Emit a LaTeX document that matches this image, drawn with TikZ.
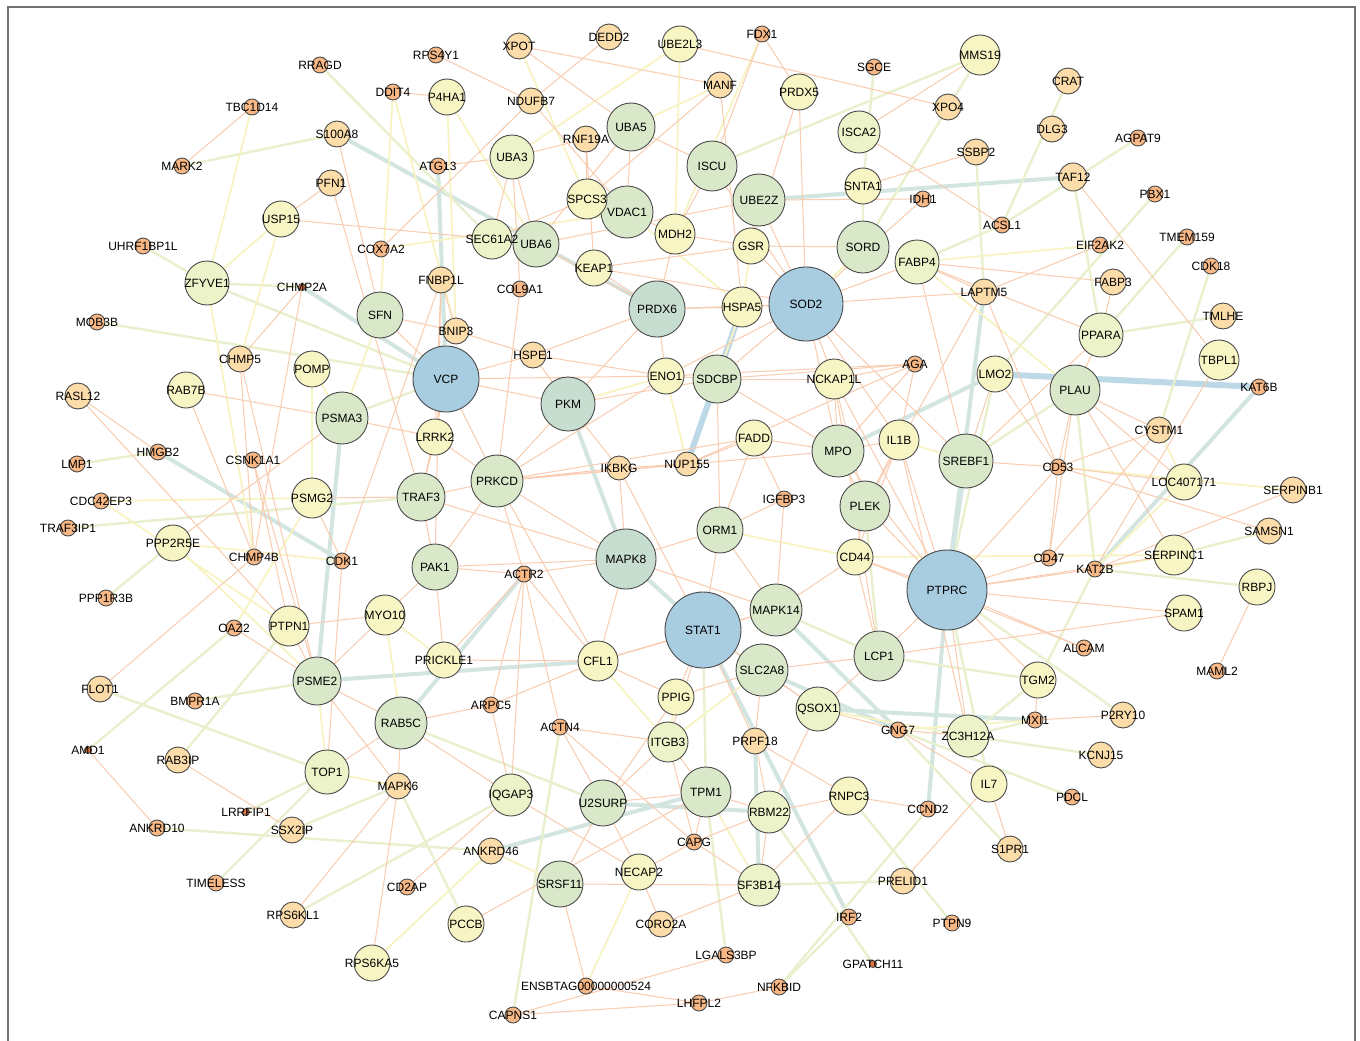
\documentclass[tikz,border=0pt]{standalone}
\usepackage{fontspec}
\setmainfont{Liberation Sans}
\usetikzlibrary{backgrounds}

\definecolor{cblue}{HTML}{A8CCE0}
\definecolor{cteal}{HTML}{C7DDD0}
\definecolor{cgreen}{HTML}{DAE8CA}
\definecolor{clime}{HTML}{ECF3C8}
\definecolor{cyellow}{HTML}{F8F5C4}
\definecolor{cpeach}{HTML}{FCDDAA}
\definecolor{corange}{HTML}{F7B886}
\definecolor{crust}{HTML}{E0743E}
\definecolor{eorange}{HTML}{F9CCB0}
\definecolor{eyellow}{HTML}{F8F3C3}
\definecolor{elime}{HTML}{E8F0CD}
\definecolor{eteal}{HTML}{D3E5E0}
\definecolor{eblue}{HTML}{BDD8E6}
\definecolor{rim}{HTML}{4A4A4A}

\tikzstyle{gene} = [circle, draw=rim, line width=0.9pt, inner sep=0pt]
\tikzstyle{blue_node} = [gene, fill=cblue]
\tikzstyle{teal_node} = [gene, fill=cteal]
\tikzstyle{green_node} = [gene, fill=cgreen]
\tikzstyle{lime_node} = [gene, fill=clime]
\tikzstyle{yellow_node} = [gene, fill=cyellow]
\tikzstyle{peach_node} = [gene, fill=cpeach, minimum size=26]
\tikzstyle{orange_node} = [gene, fill=corange, minimum size=16]
\tikzstyle{rust_node} = [gene, fill=crust, minimum size=7]
\tikzstyle{weak_edge} = [draw=eorange, line width=1pt]
\tikzstyle{mild_edge} = [draw=eyellow, line width=1.8pt]
\tikzstyle{lime_edge} = [draw=elime, line width=2.4pt]
\tikzstyle{strong_edge} = [draw=eteal, line width=4pt]
\tikzstyle{top_edge} = [draw=eblue, line width=6pt]
\tikzstyle{frame} = [draw=black!55, line width=1.2pt]

\begin{document}
\begin{tikzpicture}[x=1pt, y=-1pt, every label/.style={font=\fontsize{12}{12}\selectfont, inner sep=0pt, text=black}]
\useasboundingbox (0,0) rectangle (1360,1041);
\draw [frame] (8,1041) -- (8,7) -- (1355,7) -- (1355,1041);

% hubs
\node (VCP) [blue_node, minimum size=66, label=center:VCP] at (446,379) {};
\node (SOD2) [blue_node, minimum size=74, label=center:SOD2] at (806,304) {};
\node (STAT1) [blue_node, minimum size=76, label=center:STAT1] at (703,630) {};
\node (PTPRC) [blue_node, minimum size=80, label=center:PTPRC] at (947,590) {};
\node (PRDX6) [teal_node, minimum size=56, label=center:PRDX6] at (657,309) {};
\node (PKM) [teal_node, minimum size=54, label=center:PKM] at (568,404) {};
\node (MAPK8) [teal_node, minimum size=60, label=center:MAPK8] at (626,559) {};

% green nodes
\node (UBA5) [green_node, minimum size=48, label=center:UBA5] at (631,127) {};
\node (VDAC1) [green_node, minimum size=52, label=center:VDAC1] at (627,212) {};
\node (UBE2Z) [green_node, minimum size=52, label=center:UBE2Z] at (759,200) {};
\node (ISCU) [green_node, minimum size=50, label=center:ISCU] at (712,166) {};
\node (SORD) [green_node, minimum size=52, label=center:SORD] at (863,247) {};
\node (UBA6) [green_node, minimum size=46, label=center:UBA6] at (536,244) {};
\node (SFN) [green_node, minimum size=46, label=center:SFN] at (380,315) {};
\node (PSMA3) [green_node, minimum size=52, label=center:PSMA3] at (342,418) {};
\node (PRKCD) [green_node, minimum size=52, label=center:PRKCD] at (497,481) {};
\node (TRAF3) [green_node, minimum size=48, label=center:TRAF3] at (421,497) {};
\node (SDCBP) [green_node, minimum size=48, label=center:SDCBP] at (717,379) {};
\node (MPO) [green_node, minimum size=52, label=center:MPO] at (838,451) {};
\node (SREBF1) [green_node, minimum size=54, label=center:SREBF1] at (966,461) {};
\node (PLEK) [green_node, minimum size=50, label=center:PLEK] at (865,506) {};
\node (PLAU) [green_node, minimum size=50, label=center:PLAU] at (1075,390) {};
\node (MAPK14) [green_node, minimum size=52, label=center:MAPK14] at (776,610) {};
\node (SLC2A8) [green_node, minimum size=52, label=center:SLC2A8] at (762,670) {};
\node (LCP1) [green_node, minimum size=50, label=center:LCP1] at (879,656) {};
\node (RAB5C) [green_node, minimum size=52, label=center:RAB5C] at (401,723) {};
\node (PSME2) [green_node, minimum size=48, label=center:PSME2] at (317,681) {};
\node (TPM1) [green_node, minimum size=50, label=center:TPM1] at (706,792) {};
\node (U2SURP) [green_node, minimum size=46, label=center:U2SURP] at (603,803) {};
\node (SRSF11) [green_node, minimum size=46, label=center:SRSF11] at (560,884) {};
\node (PAK1) [green_node, minimum size=46, label=center:PAK1] at (435,567) {};
\node (ORM1) [green_node, minimum size=46, label=center:ORM1] at (720,530) {};

% pale green nodes
\node (ZFYVE1) [lime_node, minimum size=44, label=center:ZFYVE1] at (207,283) {};
\node (UBA3) [lime_node, minimum size=44, label=center:UBA3] at (512,157) {};
\node (SEC61A2) [lime_node, minimum size=40, label=center:SEC61A2] at (492,239) {};
\node (ISCA2) [lime_node, minimum size=42, label=center:ISCA2] at (859,132) {};
\node (FABP4) [lime_node, minimum size=44, label=center:FABP4] at (917,262) {};
\node (PPARA) [lime_node, minimum size=44, label=center:PPARA] at (1101,335) {};
\node (QSOX1) [lime_node, minimum size=44, label=center:QSOX1] at (818,709) {};
\node (IQGAP3) [lime_node, minimum size=42, label=center:IQGAP3] at (511,795) {};
\node (TOP1) [lime_node, minimum size=44, label=center:TOP1] at (327,772) {};
\node (ZC3H12A) [lime_node, minimum size=42, label=center:ZC3H12A] at (968,736) {};
\node (SF3B14) [lime_node, minimum size=42, label=center:SF3B14] at (759,885) {};
\node (RBM22) [lime_node, minimum size=42, label=center:RBM22] at (769,812) {};
\node (ITGB3) [lime_node, minimum size=40, label=center:ITGB3] at (668,742) {};

% yellow nodes
\node (P4HA1) [yellow_node, minimum size=36, label=center:P4HA1] at (447,97) {};
\node (PRDX5) [yellow_node, minimum size=36, label=center:PRDX5] at (799,92) {};
\node (MMS19) [yellow_node, minimum size=40, label=center:MMS19] at (980,55) {};
\node (UBE2L3) [yellow_node, minimum size=36, label=center:UBE2L3] at (680,44) {};
\node (SPCS3) [yellow_node, minimum size=40, label=center:SPCS3] at (587,199) {};
\node (MDH2) [yellow_node, minimum size=40, label=center:MDH2] at (675,234) {};
\node (GSR) [yellow_node, minimum size=36, label=center:GSR] at (751,246) {};
\node (KEAP1) [yellow_node, minimum size=36, label=center:KEAP1] at (594,268) {};
\node (HSPA5) [yellow_node, minimum size=40, label=center:HSPA5] at (742,307) {};
\node (SNTA1) [yellow_node, minimum size=36, label=center:SNTA1] at (863,186) {};
\node (USP15) [yellow_node, minimum size=36, label=center:USP15] at (281,219) {};
\node (POMP) [yellow_node, minimum size=36, label=center:POMP] at (312,369) {};
\node (RAB7B) [yellow_node, minimum size=36, label=center:RAB7B] at (186,390) {};
\node (LRRK2) [yellow_node, minimum size=36, label=center:LRRK2] at (435,437) {};
\node (ENO1) [yellow_node, minimum size=36, label=center:ENO1] at (666,376) {};
\node (NCKAP1L) [yellow_node, minimum size=40, label=center:NCKAP1L] at (834,379) {};
\node (IL1B) [yellow_node, minimum size=40, label=center:IL1B] at (899,440) {};
\node (LMO2) [yellow_node, minimum size=36, label=center:LMO2] at (995,374) {};
\node (TBPL1) [yellow_node, minimum size=40, label=center:TBPL1] at (1219,360) {};
\node (PSMG2) [yellow_node, minimum size=40, label=center:PSMG2] at (312,498) {};
\node (PPP2R5E) [yellow_node, minimum size=36, label=center:PPP2R5E] at (173,543) {};
\node (FADD) [yellow_node, minimum size=36, label=center:FADD] at (754,438) {};
\node (CD44) [yellow_node, minimum size=36, label=center:CD44] at (855,557) {};
\node (MYO10) [yellow_node, minimum size=40, label=center:MYO10] at (385,615) {};
\node (PTPN1) [yellow_node, minimum size=40, label=center:PTPN1] at (289,626) {};
\node (PRICKLE1) [yellow_node, minimum size=36, label=center:PRICKLE1] at (444,660) {};
\node (CFL1) [yellow_node, minimum size=40, label=center:CFL1] at (598,661) {};
\node (PPIG) [yellow_node, minimum size=36, label=center:PPIG] at (676,697) {};
\node (TGM2) [yellow_node, minimum size=36, label=center:TGM2] at (1038,680) {};
\node (IL7) [yellow_node, minimum size=36, label=center:IL7] at (989,784) {};
\node (RNPC3) [yellow_node, minimum size=38, label=center:RNPC3] at (849,796) {};
\node (NECAP2) [yellow_node, minimum size=36, label=center:NECAP2] at (639,872) {};
\node (PCCB) [yellow_node, minimum size=36, label=center:PCCB] at (466,924) {};
\node (RPS6KA5) [yellow_node, minimum size=36, label=center:RPS6KA5] at (372,963) {};
\node (LOC407171) [yellow_node, minimum size=36, label=center:LOC407171] at (1184,482) {};
\node (SERPINC1) [yellow_node, minimum size=40, label=center:SERPINC1] at (1174,555) {};
\node (SPAM1) [yellow_node, minimum size=36, label=center:SPAM1] at (1184,613) {};
\node (RBPJ) [yellow_node, minimum size=36, label=center:RBPJ] at (1257,587) {};

% light orange nodes
\node (XPOT) [peach_node, label=center:XPOT] at (519,46) {};
\node (DEDD2) [peach_node, label=center:DEDD2] at (609,37) {};
\node (NDUFB7) [peach_node, label=center:NDUFB7] at (531,101) {};
\node (RNF19A) [peach_node, label=center:RNF19A] at (586,139) {};
\node (MANF) [peach_node, label=center:MANF] at (720,85) {};
\node (XPO4) [peach_node, label=center:XPO4] at (948,107) {};
\node (SSBP2) [peach_node, label=center:SSBP2] at (976,152) {};
\node (CRAT) [peach_node, label=center:CRAT] at (1068,81) {};
\node (DLG3) [peach_node, label=center:DLG3] at (1052,129) {};
\node (TAF12) [peach_node, minimum size=28, label=center:TAF12] at (1073,177) {};
\node (S100A8) [peach_node, label=center:S100A8] at (337,134) {};
\node (PFN1) [peach_node, label=center:PFN1] at (331,183) {};
\node (FNBP1L) [peach_node, label=center:FNBP1L] at (441,280) {};
\node (BNIP3) [peach_node, label=center:BNIP3] at (456,331) {};
\node (LAPTM5) [peach_node, label=center:LAPTM5] at (984,292) {};
\node (FABP3) [peach_node, label=center:FABP3] at (1113,282) {};
\node (TMLHE) [peach_node, label=center:TMLHE] at (1223,316) {};
\node (CHMP5) [peach_node, label=center:CHMP5] at (240,359) {};
\node (HSPE1) [peach_node, label=center:HSPE1] at (533,355) {};
\node (RASL12) [peach_node, label=center:RASL12] at (78,396) {};
\node (CYSTM1) [peach_node, label=center:CYSTM1] at (1159,430) {};
\node (SERPINB1) [peach_node, label=center:SERPINB1] at (1293,490) {};
\node (SAMSN1) [peach_node, label=center:SAMSN1] at (1269,531) {};
\node (FLOT1) [peach_node, label=center:FLOT1] at (100,689) {};
\node (RAB3IP) [peach_node, label=center:RAB3IP] at (178,760) {};
\node (SSX2IP) [peach_node, label=center:SSX2IP] at (292,830) {};
\node (RPS6KL1) [peach_node, label=center:RPS6KL1] at (293,915) {};
\node (P2RY10) [peach_node, label=center:P2RY10] at (1123,715) {};
\node (KCNJ15) [peach_node, label=center:KCNJ15] at (1101,755) {};
\node (S1PR1) [peach_node, label=center:S1PR1] at (1010,849) {};
\node (PRELID1) [peach_node, label=center:PRELID1] at (903,881) {};
\node (CORO2A) [peach_node, label=center:CORO2A] at (661,924) {};
\node (MAPK6) [peach_node, label=center:MAPK6] at (398,786) {};
\node (ANKRD46) [peach_node, label=center:ANKRD46] at (491,851) {};
\node (NUP155) [peach_node, minimum size=24, label=center:NUP155] at (687,464) {};
\node (IKBKG) [peach_node, minimum size=24, label=center:IKBKG] at (619,468) {};
\node (PRPF18) [peach_node, label=center:PRPF18] at (755,741) {};

% small orange nodes
\node (RRAGD) [orange_node, label=center:RRAGD] at (320,65) {};
\node (TBC1D14) [orange_node, label=center:TBC1D14] at (252,107) {};
\node (MARK2) [orange_node, label=center:MARK2] at (182,166) {};
\node (UHRF1BP1L) [orange_node, label=center:UHRF1BP1L] at (143,246) {};
\node (MOB3B) [orange_node, label=center:MOB3B] at (97,322) {};
\node (RPS4Y1) [orange_node, label=center:RPS4Y1] at (436,55) {};
\node (DDIT4) [orange_node, label=center:DDIT4] at (393,92) {};
\node (ATG13) [orange_node, label=center:ATG13] at (438,166) {};
\node (COX7A2) [orange_node, label=center:COX7A2] at (381,249) {};
\node (COL9A1) [orange_node, label=center:COL9A1] at (520,289) {};
\node (FDX1) [orange_node, label=center:FDX1] at (762,34) {};
\node (SGCE) [orange_node, label=center:SGCE] at (874,67) {};
\node (IDH1) [orange_node, label=center:IDH1] at (923,199) {};
\node (ACSL1) [orange_node, label=center:ACSL1] at (1002,225) {};
\node (AGPAT9) [orange_node, label=center:AGPAT9] at (1138,138) {};
\node (PBX1) [orange_node, label=center:PBX1] at (1155,194) {};
\node (EIF2AK2) [orange_node, label=center:EIF2AK2] at (1100,245) {};
\node (TMEM159) [orange_node, label=center:TMEM159] at (1187,237) {};
\node (CDK18) [orange_node, label=center:CDK18] at (1211,266) {};
\node (AGA) [orange_node, label=center:AGA] at (915,364) {};
\node (KAT6B) [orange_node, label=center:KAT6B] at (1259,387) {};
\node (CD53) [orange_node, label=center:CD53] at (1058,467) {};
\node (CD47) [orange_node, label=center:CD47] at (1049,558) {};
\node (KAT2B) [orange_node, label=center:KAT2B] at (1095,569) {};
\node (ALCAM) [orange_node, label=center:ALCAM] at (1084,648) {};
\node (MAML2) [orange_node, label=center:MAML2] at (1217,671) {};
\node (IGFBP3) [orange_node, label=center:IGFBP3] at (784,499) {};
\node (HMGB2) [orange_node, label=center:HMGB2] at (158,452) {};
\node (LMP1) [orange_node, label=center:LMP1] at (77,464) {};
\node (CSNK1A1) [orange_node, label=center:CSNK1A1] at (253,460) {};
\node (CDC42EP3) [orange_node, label=center:CDC42EP3] at (101,501) {};
\node (TRAF3IP1) [orange_node, label=center:TRAF3IP1] at (68,528) {};
\node (CHMP4B) [orange_node, label=center:CHMP4B] at (254,557) {};
\node (CDK1) [orange_node, label=center:CDK1] at (342,561) {};
\node (PPP1R3B) [orange_node, label=center:PPP1R3B] at (106,598) {};
\node (OAZ2) [orange_node, label=center:OAZ2] at (234,628) {};
\node (ACTR2) [orange_node, label=center:ACTR2] at (524,574) {};
\node (BMPR1A) [orange_node, label=center:BMPR1A] at (195,701) {};
\node (ARPC5) [orange_node, label=center:ARPC5] at (491,705) {};
\node (ACTN4) [orange_node, label=center:ACTN4] at (560,727) {};
\node (ANKRD10) [orange_node, label=center:ANKRD10] at (157,828) {};
\node (TIMELESS) [orange_node, label=center:TIMELESS] at (216,883) {};
\node (CD2AP) [orange_node, label=center:CD2AP] at (407,887) {};
\node (ENSBTAG) [orange_node, label=center:ENSBTAG00000000524] at (586,986) {};
\node (CAPNS1) [orange_node, label=center:CAPNS1] at (513,1015) {};
\node (GNG7) [orange_node, label=center:GNG7] at (898,730) {};
\node (MXI1) [orange_node, label=center:MXI1] at (1035,720) {};
\node (CCND2) [orange_node, label=center:CCND2] at (928,809) {};
\node (CAPG) [orange_node, label=center:CAPG] at (694,842) {};
\node (IRF2) [orange_node, label=center:IRF2] at (849,917) {};
\node (PTPN9) [orange_node, label=center:PTPN9] at (952,923) {};
\node (LGALS3BP) [orange_node, label=center:LGALS3BP] at (726,955) {};
\node (NFKBID) [orange_node, label=center:NFKBID] at (779,987) {};
\node (LHFPL2) [orange_node, label=center:LHFPL2] at (699,1003) {};
\node (PDCL) [orange_node, label=center:PDCL] at (1072,797) {};

% tiny nodes
\node (CHMP2A) [rust_node, label=center:CHMP2A] at (302,287) {};
\node (AMD1) [rust_node, label=center:AMD1] at (88,750) {};
\node (LRRFIP1) [rust_node, label=center:LRRFIP1] at (246,812) {};
\node (GPATCH11) [rust_node, label=center:GPATCH11] at (873,964) {};

\begin{scope}[on background layer]
\fill [white] (0,0) rectangle (1360,1041);
% heavy links
\foreach \a/\b in {LMO2/KAT6B, NUP155/HSPA5}
  \draw [top_edge] (\a) -- (\b);
\foreach \a/\b in {S100A8/PRDX6, CHMP2A/VCP, HMGB2/CDK1, UBE2Z/TAF12, ATG13/VCP, PKM/MAPK8, MAPK8/STAT1,
  STAT1/IRF2, PTPRC/CCND2, PRPF18/SF3B14, SLC2A8/GNG7, MAPK14/GNG7, QSOX1/MXI1, ANKRD46/TPM1,
  PSMA3/PSME2, LAPTM5/PTPRC, SREBF1/PTPRC, KAT6B/KAT2B, PSME2/CFL1, ACTR2/RAB5C, U2SURP/RBM22, MPO/LMO2}
  \draw [strong_edge] (\a) -- (\b);
% medium links
\foreach \a/\b in {MARK2/S100A8, UHRF1BP1L/ZFYVE1, ZFYVE1/CHMP2A, ZFYVE1/VCP, MOB3B/VCP, LMP1/HMGB2,
  TRAF3IP1/TRAF3, PPP2R5E/PPP1R3B, AMD1/OAZ2, RAB3IP/PTPN1, LRRFIP1/TOP1, TIMELESS/TOP1, ANKRD10/ANKRD46,
  SSX2IP/MAPK6, RPS6KL1/IQGAP3, MAPK6/PCCB, CAPNS1/ACTN4, LGALS3BP/TPM1, IRF2/NFKBID, NFKBID/CCND2,
  GPATCH11/RBM22, SF3B14/PRELID1, RNPC3/PTPN9, S1PR1/GNG7, PDCL/GNG7, P2RY10/PTPRC, ZC3H12A/KCNJ15,
  ZC3H12A/MXI1, ZC3H12A/TGM2, RBPJ/KAT2B, SAMSN1/SERPINC1, KAT2B/TGM2, TMLHE/PPARA, TMEM159/PPARA,
  CDK18/CYSTM1, PBX1/LMO2, TAF12/PPARA, AGPAT9/ACSL1, CRAT/ACSL1, SSBP2/LAPTM5, ACSL1/FABP4, MMS19/ISCU,
  RRAGD/SEC61A2, BMPR1A/PSME2, FLOT1/TOP1, PLAU/KAT2B, PTPRC/IL7, PLEK/LCP1, SREBF1/PLAU, TGM2/LCP1,
  SGCE/SNTA1, MMS19/SORD, VCP/PSMA3, RAB5C/U2SURP, STAT1/TPM1, LMO2/PTPRC, SORD/SNTA1, MAPK14/LCP1}
  \draw [lime_edge] (\a) -- (\b);
\foreach \a/\b in {TBC1D14/ZFYVE1, USP15/CHMP5, ZFYVE1/CHMP4B, DDIT4/SFN, DDIT4/BNIP3, P4HA1/UBA6,
  P4HA1/BNIP3, CDC42EP3/PSMG2, CDC42EP3/PTPN1, PPP2R5E/CDK1, PPP2R5E/PSME2, RPS6KA5/ANKRD46,
  ANKRD46/SRSF11, ENSBTAG/NECAP2, CD53/SERPINB1, XPOT/SPCS3, UBE2L3/MDH2, UBE2L3/UBA3, COX7A2/VDAC1,
  POMP/PSMG2, ENO1/NUP155, CFL1/ITGB3, TOP1/PSME2, MAPK6/TOP1, MYO10/RAB5C, POMP/PSMA3, MANF/UBA5,
  FDX1/MDH2, VDAC1/HSPA5, HSPA5/SDCBP, GSR/HSPA5, ZFYVE1/USP15, EIF2AK2/FABP4, OAZ2/PSMG2, CD44/SERPINC1,
  SERPINC1/KAT2B, LOC407171/KAT2B, LOC407171/CYSTM1, SFN/PSMA3, PRICKLE1/MYO10, PPIG/ITGB3, IL1B/SREBF1,
  FABP4/PLAU, SOD2/SORD, PKM/ENO1, ORM1/CD44, SLC2A8/ITGB3, TPM1/SF3B14, QSOX1/ZC3H12A, GNG7/MXI1}
  \draw [mild_edge] (\a) -- (\b);
% light links
\foreach \a/\b in {TBC1D14/MARK2, CHMP2A/CHMP5, CHMP2A/CHMP4B, RASL12/PTPN1, RAB7B/PSMA3, RAB7B/CHMP4B,
  CHMP5/CHMP4B, CHMP5/PSME2, PPP2R5E/PSMA3, CHMP4B/FLOT1, CSNK1A1/PSME2, CSNK1A1/PTPN1, PFN1/TRAF3,
  USP15/SEC61A2, XPOT/MANF, UBE2L3/XPO4, DEDD2/NDUFB7, NDUFB7/COX7A2, NDUFB7/VDAC1, DDIT4/P4HA1,
  RNF19A/UBA3, RNF19A/KEAP1, UBA3/UBA6, UBA6/UBE2Z, KEAP1/GSR, KEAP1/SOD2, FNBP1L/LRRK2, FNBP1L/PAK1,
  FNBP1L/CDK1, FNBP1L/BNIP3, FDX1/ISCU, FDX1/PRDX5, PRDX5/SOD2, PRDX5/GSR, ISCA2/MMS19, ISCA2/ACSL1,
  SNTA1/SSBP2, IDH1/UBE2Z, IDH1/SOD2, GSR/SORD, MANF/HSPA5, MANF/SPCS3, TAF12/TBPL1, EIF2AK2/LAPTM5,
  FABP3/PPARA, FABP3/FABP4, TBPL1/KAT2B, PLAU/CYSTM1, PLAU/CD53, PLAU/LOC407171, PLAU/SERPINC1,
  CYSTM1/CD53, CYSTM1/CD47, CD53/CD47, CD53/LOC407171, CD53/SAMSN1, SERPINB1/KAT2B, RBPJ/MAML2,
  SPAM1/LCP1, ALCAM/CD44, MXI1/P2RY10, AMD1/ANKRD10, RAB3IP/SSX2IP, RPS6KL1/MAPK6, RAB5C/ARPC5,
  RAB5C/IQGAP3, IQGAP3/CD2AP, IQGAP3/NECAP2, U2SURP/NECAP2, U2SURP/SRSF11, SRSF11/SF3B14, SRSF11/ENSBTAG,
  NECAP2/CORO2A, PCCB/TPM1, MAPK6/RPS6KA5, LGALS3BP/CAPNS1, NFKBID/LHFPL2, LHFPL2/CAPNS1, PRPF18/RNPC3,
  PRPF18/RBM22, RBM22/RNPC3, RBM22/SF3B14, RBM22/CAPG, RNPC3/SF3B14, CAPG/SF3B14, PRELID1/IL7, IL7/S1PR1,
  GNG7/IL7, GNG7/ZC3H12A, ACTR2/PAK1, ACTR2/ARPC5, ACTR2/CFL1, ACTR2/ACTN4, ACTR2/PRKCD, ACTR2/MAPK8,
  ACTR2/IQGAP3, ACTR2/PRICKLE1, VCP/ENO1, VCP/HSPE1, VCP/LRRK2, VCP/TRAF3, VCP/PRKCD, VCP/PKM,
  PRKCD/IKBKG, PRKCD/NUP155, PRKCD/TRAF3, PRKCD/PKM, PRKCD/LRRK2, PRKCD/ENO1, PRKCD/FADD, PRKCD/MPO,
  PRKCD/PAK1, PRKCD/MAPK8, PRKCD/CFL1, PKM/HSPE1, PKM/IKBKG, PKM/SDCBP, MAPK8/IKBKG, MAPK8/TRAF3,
  MAPK8/PAK1, MAPK8/MAPK14, MAPK8/CFL1, MAPK8/ORM1, AGA/ENO1, AGA/SDCBP, AGA/NUP155, AGA/MPO,
  AGA/NCKAP1L, AGA/IL1B, NCKAP1L/MPO, NCKAP1L/PLEK, NCKAP1L/PTPRC, NCKAP1L/LCP1, MPO/PLEK, MPO/IL1B,
  MPO/FADD, MPO/SDCBP, MPO/PTPRC, IL1B/PLEK, IL1B/CD44, IL1B/PTPRC, IL1B/ZC3H12A, IGFBP3/FADD,
  IGFBP3/ORM1, IGFBP3/MAPK14, CD44/PTPRC, CD44/PLEK, CD44/LCP1, CD44/MAPK14, PTPRC/LCP1, PTPRC/PLEK,
  PTPRC/CD53, PTPRC/CD47, PTPRC/TGM2, PTPRC/KAT2B, PTPRC/SERPINC1, PTPRC/SPAM1, PTPRC/ALCAM,
  PTPRC/ZC3H12A, STAT1/MAPK14, STAT1/SLC2A8, STAT1/CFL1, STAT1/PPIG, STAT1/ITGB3, STAT1/ORM1,
  STAT1/QSOX1, STAT1/PRPF18, STAT1/IKBKG, SOD2/PRDX6, SOD2/GSR, SOD2/FABP4, SOD2/NCKAP1L, SOD2/ENO1,
  SOD2/SDCBP, SOD2/MPO, SOD2/SREBF1, SOD2/LAPTM5, SOD2/IL1B, SOD2/ISCU, SOD2/UBE2Z, SOD2/HSPA5,
  PRDX6/ENO1, PRDX6/UBA6, PRDX6/KEAP1, PRDX6/MDH2, PRDX6/HSPA5, PRDX6/PKM, PRDX6/HSPE1, MDH2/VDAC1,
  MDH2/GSR, MDH2/ISCU, VDAC1/SPCS3, VDAC1/UBA5, SPCS3/SEC61A2, SPCS3/RNF19A, SEC61A2/UBA3, UBA5/UBA6,
  UBA5/ISCU, FABP4/LAPTM5, FABP4/PPARA, FABP4/SREBF1, LAPTM5/CD53, LAPTM5/PLEK, SREBF1/PPARA,
  SREBF1/LMO2, SREBF1/CD53, LMO2/CD53, PLAU/PPARA, PLAU/CD47, LCP1/SLC2A8, LCP1/QSOX1, SLC2A8/QSOX1,
  SLC2A8/PPIG, SLC2A8/PRPF18, MAPK14/ORM1, MAPK14/CFL1, ORM1/SDCBP, ORM1/FADD, SDCBP/ENO1,
  SDCBP/NCKAP1L, FADD/NUP155, NUP155/IKBKG, ITGB3/U2SURP, ITGB3/TPM1, ITGB3/ACTN4, ITGB3/CAPG,
  TPM1/CAPG, TPM1/RBM22, TPM1/U2SURP, PPIG/CFL1, PPIG/U2SURP, CFL1/PRICKLE1, CFL1/ARPC5, PAK1/TRAF3,
  PAK1/MYO10, PAK1/PRICKLE1, TRAF3/LRRK2, TRAF3/PSMG2, LRRK2/PSMA3, SFN/VCP, SFN/BNIP3, BNIP3/HSPE1,
  HSPE1/ENO1, MYO10/PTPN1, PTPN1/PSME2, PSME2/MYO10, PSME2/RAB5C, CDK1/PSMG2, CDK1/TOP1, OAZ2/PSME2,
  TOP1/RAB5C, MAPK6/RAB5C, MAPK6/PSME2, ARPC5/IQGAP3, ACTN4/U2SURP, ACTN4/CAPG, CAPG/NECAP2,
  CORO2A/SF3B14, ENSBTAG/LHFPL2, CCND2/RNPC3, QSOX1/GNG7, QSOX1/RBM22, TGM2/MXI1, COL9A1/UBA3,
  COL9A1/PRKCD, XPOT/UBA5, RPS4Y1/NDUFB7, ATG13/UBA3, USP15/PFN1, S100A8/SFN, HMGB2/RASL12}
  \draw [weak_edge] (\a) -- (\b);
\end{scope}
\end{tikzpicture}
\end{document}
